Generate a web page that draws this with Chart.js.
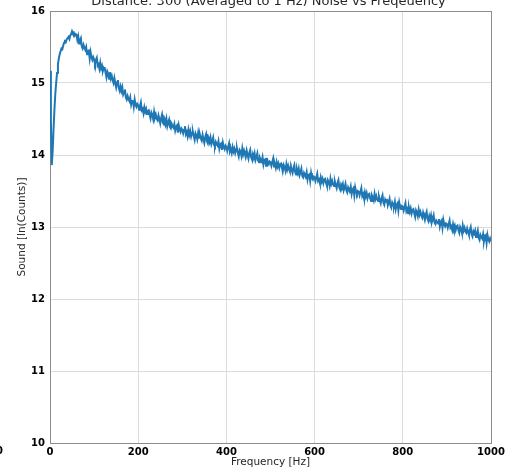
<!DOCTYPE html>
<html>
<head>
<meta charset="utf-8">
<script src="https://cdn.jsdelivr.net/npm/chart.js@4.4.1/dist/chart.umd.min.js"></script>
<style>
  html, body { margin: 0; padding: 0; background: #fff; }
  canvas { display: block; }
</style>
</head>
<body>
<canvas id="noiseChart" width="526" height="471"></canvas>
<script>
// frequency bins (Hz), 2 Hz apart
const freqHz = [
  0, 2, 4, 6, 8, 10, 12, 14, 16, 18,
  20, 22, 24, 26, 28, 30, 32, 34, 36, 38,
  40, 42, 44, 46, 48, 50, 52, 54, 56, 58,
  60, 62, 64, 66, 68, 70, 72, 74, 76, 78,
  80, 82, 84, 86, 88, 90, 92, 94, 96, 98,
  100, 102, 104, 106, 108, 110, 112, 114, 116, 118,
  120, 122, 124, 126, 128, 130, 132, 134, 136, 138,
  140, 142, 144, 146, 148, 150, 152, 154, 156, 158,
  160, 162, 164, 166, 168, 170, 172, 174, 176, 178,
  180, 182, 184, 186, 188, 190, 192, 194, 196, 198,
  200, 202, 204, 206, 208, 210, 212, 214, 216, 218,
  220, 222, 224, 226, 228, 230, 232, 234, 236, 238,
  240, 242, 244, 246, 248, 250, 252, 254, 256, 258,
  260, 262, 264, 266, 268, 270, 272, 274, 276, 278,
  280, 282, 284, 286, 288, 290, 292, 294, 296, 298,
  300, 302, 304, 306, 308, 310, 312, 314, 316, 318,
  320, 322, 324, 326, 328, 330, 332, 334, 336, 338,
  340, 342, 344, 346, 348, 350, 352, 354, 356, 358,
  360, 362, 364, 366, 368, 370, 372, 374, 376, 378,
  380, 382, 384, 386, 388, 390, 392, 394, 396, 398,
  400, 402, 404, 406, 408, 410, 412, 414, 416, 418,
  420, 422, 424, 426, 428, 430, 432, 434, 436, 438,
  440, 442, 444, 446, 448, 450, 452, 454, 456, 458,
  460, 462, 464, 466, 468, 470, 472, 474, 476, 478,
  480, 482, 484, 486, 488, 490, 492, 494, 496, 498,
  500, 502, 504, 506, 508, 510, 512, 514, 516, 518,
  520, 522, 524, 526, 528, 530, 532, 534, 536, 538,
  540, 542, 544, 546, 548, 550, 552, 554, 556, 558,
  560, 562, 564, 566, 568, 570, 572, 574, 576, 578,
  580, 582, 584, 586, 588, 590, 592, 594, 596, 598,
  600, 602, 604, 606, 608, 610, 612, 614, 616, 618,
  620, 622, 624, 626, 628, 630, 632, 634, 636, 638,
  640, 642, 644, 646, 648, 650, 652, 654, 656, 658,
  660, 662, 664, 666, 668, 670, 672, 674, 676, 678,
  680, 682, 684, 686, 688, 690, 692, 694, 696, 698,
  700, 702, 704, 706, 708, 710, 712, 714, 716, 718,
  720, 722, 724, 726, 728, 730, 732, 734, 736, 738,
  740, 742, 744, 746, 748, 750, 752, 754, 756, 758,
  760, 762, 764, 766, 768, 770, 772, 774, 776, 778,
  780, 782, 784, 786, 788, 790, 792, 794, 796, 798,
  800, 802, 804, 806, 808, 810, 812, 814, 816, 818,
  820, 822, 824, 826, 828, 830, 832, 834, 836, 838,
  840, 842, 844, 846, 848, 850, 852, 854, 856, 858,
  860, 862, 864, 866, 868, 870, 872, 874, 876, 878,
  880, 882, 884, 886, 888, 890, 892, 894, 896, 898,
  900, 902, 904, 906, 908, 910, 912, 914, 916, 918,
  920, 922, 924, 926, 928, 930, 932, 934, 936, 938,
  940, 942, 944, 946, 948, 950, 952, 954, 956, 958,
  960, 962, 964, 966, 968, 970, 972, 974, 976, 978,
  980, 982, 984, 986, 988, 990, 992, 994, 996, 998,
  1000
];

// sound level ln(counts)
const soundLn = [
  15.17, 14.50, 13.86, 14.05, 14.35, 14.62, 14.85, 15.00, 15.14, 15.26,
  15.34, 15.40, 15.44, 15.48, 15.47, 15.52, 15.56, 15.58, 15.57, 15.61,
  15.62, 15.64, 15.61, 15.66, 15.68, 15.72, 15.69, 15.70, 15.66, 15.68,
  15.67, 15.60, 15.65, 15.55, 15.59, 15.62, 15.51, 15.48, 15.53, 15.49,
  15.46, 15.50, 15.40, 15.44, 15.45, 15.34, 15.43, 15.36, 15.32, 15.36,
  15.33, 15.27, 15.32, 15.35, 15.24, 15.26, 15.20, 15.28, 15.20, 15.24,
  15.17, 15.21, 15.21, 15.14, 15.08, 15.16, 15.13, 15.06, 15.15, 15.06,
  15.10, 15.04, 15.00, 15.07, 15.00, 14.94, 15.01, 15.04, 14.93, 14.89,
  14.95, 14.89, 14.94, 14.84, 14.87, 14.91, 14.80, 14.77, 14.82, 14.78,
  14.75, 14.80, 14.70, 14.75, 14.76, 14.67, 14.77, 14.70, 14.67, 14.71,
  14.69, 14.63, 14.68, 14.73, 14.62, 14.64, 14.58, 14.66, 14.60, 14.64,
  14.57, 14.61, 14.62, 14.56, 14.51, 14.59, 14.56, 14.50, 14.60, 14.52,
  14.56, 14.50, 14.48, 14.55, 14.50, 14.44, 14.51, 14.56, 14.45, 14.43,
  14.49, 14.43, 14.50, 14.40, 14.45, 14.49, 14.39, 14.37, 14.43, 14.40,
  14.38, 14.43, 14.34, 14.39, 14.41, 14.31, 14.41, 14.35, 14.32, 14.37,
  14.35, 14.30, 14.35, 14.40, 14.29, 14.32, 14.26, 14.35, 14.28, 14.33,
  14.26, 14.31, 14.32, 14.26, 14.21, 14.30, 14.27, 14.22, 14.31, 14.24,
  14.28, 14.23, 14.20, 14.28, 14.22, 14.17, 14.25, 14.29, 14.19, 14.16,
  14.23, 14.18, 14.24, 14.15, 14.19, 14.24, 14.14, 14.12, 14.18, 14.15,
  14.13, 14.19, 14.09, 14.15, 14.16, 14.07, 14.17, 14.11, 14.08, 14.13,
  14.11, 14.06, 14.11, 14.16, 14.05, 14.08, 14.03, 14.11, 14.05, 14.09,
  14.03, 14.08, 14.09, 14.03, 13.98, 14.07, 14.05, 13.99, 14.09, 14.01,
  14.06, 14.01, 13.98, 14.06, 14.00, 13.95, 14.03, 14.07, 13.97, 13.94,
  14.01, 13.96, 14.02, 13.93, 13.97, 14.02, 13.92, 13.90, 13.96, 13.93,
  13.91, 13.97, 13.87, 13.93, 13.94, 13.85, 13.96, 13.89, 13.87, 13.91,
  13.90, 13.85, 13.90, 13.95, 13.84, 13.87, 13.82, 13.90, 13.84, 13.88,
  13.82, 13.87, 13.88, 13.82, 13.78, 13.86, 13.83, 13.78, 13.87, 13.80,
  13.85, 13.80, 13.77, 13.85, 13.79, 13.75, 13.82, 13.86, 13.76, 13.73,
  13.80, 13.75, 13.81, 13.72, 13.76, 13.81, 13.71, 13.69, 13.75, 13.72,
  13.70, 13.76, 13.66, 13.72, 13.73, 13.64, 13.75, 13.68, 13.66, 13.70,
  13.69, 13.64, 13.69, 13.74, 13.64, 13.66, 13.61, 13.69, 13.63, 13.67,
  13.61, 13.66, 13.67, 13.61, 13.57, 13.65, 13.62, 13.57, 13.67, 13.60,
  13.64, 13.59, 13.57, 13.63, 13.58, 13.54, 13.61, 13.65, 13.55, 13.52,
  13.59, 13.56, 13.60, 13.51, 13.55, 13.60, 13.51, 13.48, 13.55, 13.52,
  13.50, 13.56, 13.46, 13.52, 13.54, 13.44, 13.55, 13.49, 13.46, 13.50,
  13.49, 13.44, 13.49, 13.54, 13.43, 13.46, 13.40, 13.48, 13.42, 13.47,
  13.40, 13.45, 13.46, 13.40, 13.36, 13.44, 13.41, 13.37, 13.46, 13.39,
  13.43, 13.38, 13.36, 13.42, 13.37, 13.33, 13.40, 13.44, 13.34, 13.31,
  13.38, 13.35, 13.39, 13.30, 13.34, 13.39, 13.30, 13.27, 13.34, 13.31,
  13.29, 13.35, 13.25, 13.31, 13.33, 13.23, 13.34, 13.28, 13.25, 13.29,
  13.28, 13.23, 13.28, 13.33, 13.22, 13.25, 13.19, 13.27, 13.21, 13.26,
  13.19, 13.24, 13.25, 13.19, 13.14, 13.23, 13.20, 13.15, 13.24, 13.17,
  13.21, 13.16, 13.13, 13.20, 13.15, 13.10, 13.17, 13.21, 13.11, 13.08,
  13.15, 13.10, 13.16, 13.07, 13.11, 13.16, 13.06, 13.04, 13.09, 13.07,
  13.05, 13.11, 13.01, 13.07, 13.09, 12.99, 13.10, 13.04, 13.01, 13.05,
  13.04, 12.99, 13.04, 13.09, 12.99, 13.01, 12.96, 13.04, 12.98, 13.02,
  12.96, 13.01, 13.02, 12.96, 12.92, 13.00, 12.97, 12.92, 13.02, 12.95,
  12.99, 12.94, 12.92, 12.98, 12.93, 12.89, 12.96, 13.00, 12.90, 12.87,
  12.94, 12.91, 12.95, 12.86, 12.90, 12.95, 12.85, 12.82, 12.89, 12.86,
  12.84, 12.90, 12.80, 12.86, 12.88, 12.78, 12.89, 12.83, 12.80, 12.84,
  12.80
];

const xTicks = [0, 200, 400, 600, 800, 1000];
const yTicks = [10, 11, 12, 13, 14, 15, 16];

const chartTitle = "Distance: 300 (Averaged to 1 Hz) Noise vs Freqeuency";

const points = freqHz.map((f, i) => ({ x: f, y: soundLn[i] }));

const framePlugin = {
  id: "frame",
  beforeDatasetsDraw(chart) {
    const { ctx, chartArea } = chart;
    ctx.save();
    ctx.strokeStyle = "#8c8c8c";
    ctx.lineWidth = 1;
    ctx.strokeRect(chartArea.left + 0.5, chartArea.top + 0.5,
                   chartArea.right - chartArea.left, chartArea.bottom - chartArea.top);
    ctx.restore();
  },
  afterDraw(chart) {
    const { ctx, chartArea } = chart;
    ctx.save();
    // title, partly cut off by the top edge
    ctx.fillStyle = "#262626";
    ctx.font = "13px 'DejaVu Sans'";
    ctx.textAlign = "center";
    ctx.textBaseline = "alphabetic";
    ctx.fillText(chartTitle, (chartArea.left + chartArea.right) / 2 - 2, 5);
    // stray tick label at the far left edge
    ctx.fillStyle = "#000";
    ctx.font = "bold 10px 'DejaVu Sans'";
    ctx.textAlign = "right";
    ctx.textBaseline = "middle";
    ctx.fillText("0", 3, 451);
    ctx.restore();
  }
};

new Chart(document.getElementById("noiseChart").getContext("2d"), {
  type: "line",
  data: {
    datasets: [{
      data: points,
      borderColor: "#1f77b4",
      borderWidth: 2,
      pointRadius: 0,
      tension: 0,
      fill: false
    }]
  },
  options: {
    responsive: false,
    animation: false,
    layout: { padding: { top: 9, right: 35, left: 0, bottom: 0 } },
    plugins: {
      legend: { display: false },
      title: { display: false },
      tooltip: { enabled: false }
    },
    scales: {
      x: {
        type: "linear",
        min: 0,
        max: 1000,
        afterBuildTicks: (s) => { s.ticks = xTicks.map(v => ({ value: v })); },
        afterFit: (s) => { s.height = 28; },
        grid: { color: "#dcdcdc", drawTicks: false },
        border: { color: "#8c8c8c" },
        ticks: {
          color: "#000",
          padding: 3,
          maxRotation: 0,
          callback: (v) => String(v),
          font: { family: "'DejaVu Sans'", size: 10, weight: "bold" }
        },
        title: {
          display: true,
          text: "Frequency [Hz]",
          color: "#262626",
          padding: { top: 0, bottom: 2 },
          font: { family: "'DejaVu Sans'", size: 10.5 }
        }
      },
      y: {
        type: "linear",
        min: 10,
        max: 16,
        afterBuildTicks: (s) => { s.ticks = yTicks.map(v => ({ value: v })); },
        afterFit: (s) => { s.width = 50; },
        grid: { color: "#dcdcdc", drawTicks: false },
        border: { color: "#8c8c8c" },
        ticks: {
          color: "#000",
          padding: 5,
          font: { family: "'DejaVu Sans'", size: 10, weight: "bold" }
        },
        title: {
          display: true,
          text: "Sound [ln(Counts)]",
          color: "#262626",
          padding: { top: 16, bottom: 0 },
          font: { family: "'DejaVu Sans'", size: 10.5 }
        }
      }
    }
  },
  plugins: [framePlugin]
});
</script>
</body>
</html>
